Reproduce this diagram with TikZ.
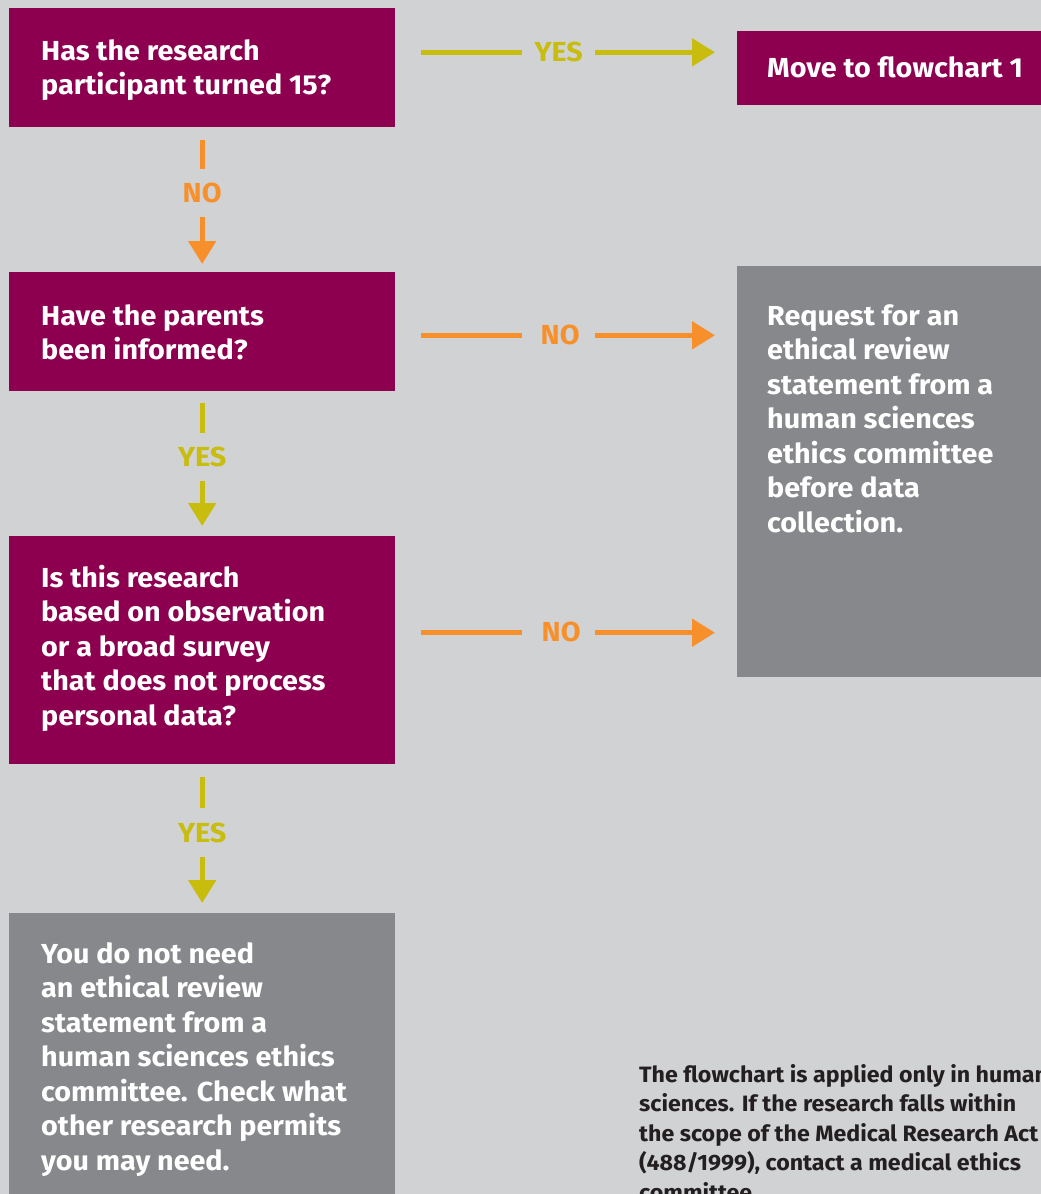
\documentclass[tikz,border=0pt]{standalone}
\usepackage{fontspec}
\usetikzlibrary{arrows.meta}
\setmainfont{Fira Sans}[FakeStretch=1.045]
\definecolor{bg}{HTML}{D1D2D4}
\definecolor{plum}{HTML}{8C004F}
\definecolor{slate}{HTML}{87888B}
\definecolor{mustard}{HTML}{C8BC0C}
\definecolor{tangerine}{HTML}{F7902B}
\definecolor{ink}{HTML}{231F20}
\begin{document}
\begin{tikzpicture}[x=1pt,y=-1pt,
  pbox/.style={fill=plum,draw=none,anchor=north west,inner sep=0pt},
  gbox/.style={fill=slate,draw=none,anchor=north west,inner sep=0pt},
  btext/.style={anchor=base west,inner sep=0pt,align=left,text=white,
    font=\fontsize{27.5}{34.5}\selectfont\bfseries},
  foot/.style={anchor=base west,inner sep=0pt,align=left,text=ink,
    font=\fontsize{22.2}{29.5}\selectfont\bfseries},
  conn/.style={line width=5pt,-{Triangle[length=23pt,width=27pt]}},
  lbl/.style={fill=bg,inner sep=0pt,minimum width=73pt,minimum height=48pt,
    text height=18.5pt,text depth=0pt,font=\fontsize{27.5}{34.5}\selectfont\bfseries}]
\useasboundingbox (0,0) rectangle (1041,1194);
\clip (0,0) rectangle (1041,1194);
\fill[bg] (0,0) rectangle (1041,1194);

% boxes
\node[pbox,minimum width=386pt,minimum height=119pt] (q1) at (9,8) {};
\node[pbox,minimum width=330pt,minimum height=74pt] (m1) at (737,31) {};
\node[pbox,minimum width=386pt,minimum height=119pt] (q2) at (9,272) {};
\node[gbox,minimum width=330pt,minimum height=411pt] (r1) at (737,266) {};
\node[pbox,minimum width=386pt,minimum height=228pt] (q3) at (9,536) {};
\node[gbox,minimum width=386pt,minimum height=300pt] (e1) at (9,913) {};

% texts (anchored at the baseline of their last line)
\node[btext] (q1t) at (41,94.5) {Has the research\\participant turned 15?};
\node[btext] (m1t) at (767,77.5) {Move to flowchart 1};
\node[btext] (q2t) at (41,359.5) {Have the parents\\been informed?};
\node[btext] (r1t) at (767,532) {Request for an\\ethical review\\statement from a\\human sciences\\ethics committee\\before data\\collection.};
\node[btext] (q3t) at (41,725) {Is this research\\based on observation\\or a broad survey\\that does not process\\personal data?};
\node[btext] (e1t) at (41,1170) {You do not need\\an ethical review\\statement from a\\human sciences ethics\\committee. Check what\\other research permits\\you may need.};
\node[foot] (note) at (639,1200) {The flowchart is applied only in human\\sciences. If the research falls within\\the scope of the Medical Research Act\\(488/1999), contact a medical ethics\\committee.};

% rows for horizontal connectors
\coordinate (h1) at (0,52.3);
\coordinate (h2) at (0,335.3);
\coordinate (h3) at (0,632.7);

% horizontal connectors
\draw[conn,mustard,shorten <=26pt,shorten >=22pt] (q1.east |- h1) -- (m1.west |- h1)
  node[lbl,text=mustard,pos=0.478] (y1) {YES};
\draw[conn,tangerine,shorten <=26pt,shorten >=22pt] (q2.east |- h2) -- (r1.west |- h2)
  node[lbl,text=tangerine,pos=0.478] (n2) {\hspace*{3pt}NO};
\draw[conn,tangerine,shorten <=26pt,shorten >=22pt] (q3.east |- h3) -- (r1.west |- h3)
  node[lbl,text=tangerine,pos=0.478] (n3) {\hspace*{5pt}NO};

% vertical connectors
\draw[conn,tangerine,shorten <=13pt,shorten >=8pt] (q1.south) -- (q2.north)
  node[lbl,text=tangerine,pos=0.452] (n1) {NO};
\draw[conn,mustard,shorten <=12pt,shorten >=10pt] (q2.south) -- (q3.north)
  node[lbl,text=mustard,pos=0.455] (y2) {YES};
\draw[conn,mustard,shorten <=13pt,shorten >=10pt] (q3.south) -- (e1.north)
  node[lbl,text=mustard,pos=0.46,minimum height=49pt] (y3) {YES};
\end{tikzpicture}
\end{document}
